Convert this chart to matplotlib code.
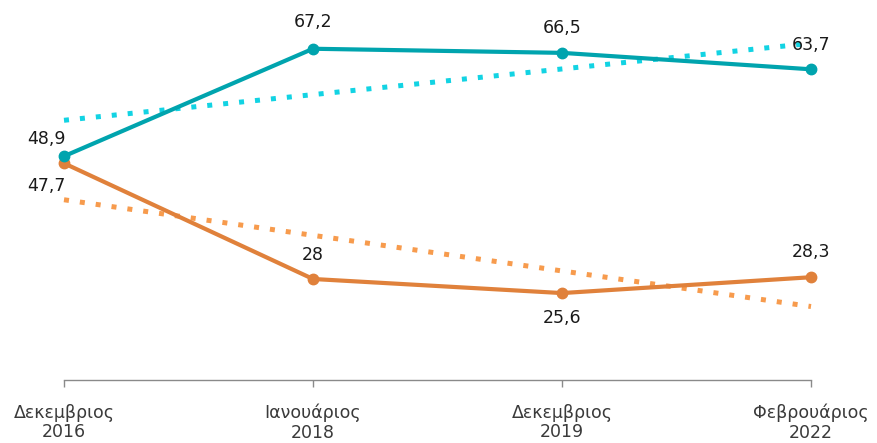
import matplotlib
matplotlib.use("Agg")
import matplotlib.pyplot as plt
import numpy as np

categories = ["Δεκεμβριος\n2016", "Ιανουάριος\n2018", "Δεκεμβριος\n2019", "Φεβρουάριος\n2022"]
teal_values = [48.9, 67.2, 66.5, 63.7]
orange_values = [47.7, 28.0, 25.6, 28.3]
teal_labels = ["48,9", "67,2", "66,5", "63,7"]
orange_labels = ["47,7", "28", "25,6", "28,3"]

TEAL = "#00A4AE"
TEAL_TREND = "#12D3E3"
ORANGE = "#E0813B"
ORANGE_TREND = "#F79B4D"

plt.rcParams['font.family'] = ['DejaVu Sans']

fig = plt.figure(figsize=(8.78, 4.43), dpi=100)
ax = fig.add_axes([64/878, (443-380)/443, (811-64)/878, 380/443])
x = np.arange(len(categories))

# trendlines (linear fit of data)
for vals, col in [(teal_values, TEAL_TREND), (orange_values, ORANGE_TREND)]:
    p = np.polyfit(x, vals, 1)
    ax.plot(x, np.polyval(p, x), color=col, lw=3.6, linestyle=(0, (1, 2.2)),
            solid_capstyle='butt', dash_capstyle='butt', clip_on=False, zorder=2)

ax.plot(x, orange_values, color=ORANGE, lw=3.0, marker='o', ms=7.5, clip_on=False, zorder=3)
ax.plot(x, teal_values, color=TEAL, lw=3.0, marker='o', ms=7.5, clip_on=False, zorder=4)

ax.set_xlim(0, 3)
ax.set_ylim(10.8, 75.5)

teal_off = [(-18, 17), (0, 27), (0, 25), (0, 24)]
orange_off = [(-18, -23), (0, 24), (0, -25), (0, 25)]
for i in range(4):
    ax.annotate(teal_labels[i], (x[i], teal_values[i]), xytext=teal_off[i],
                textcoords='offset pixels', ha='center', va='center',
                fontsize=12.5, color='#1a1a1a', zorder=5)
    ax.annotate(orange_labels[i], (x[i], orange_values[i]), xytext=orange_off[i],
                textcoords='offset pixels', ha='center', va='center',
                fontsize=12.5, color='#1a1a1a', zorder=5)

for s in ['top', 'right', 'left']:
    ax.spines[s].set_visible(False)
ax.spines['bottom'].set_color('#8a8a8a')
ax.spines['bottom'].set_linewidth(1)
ax.set_yticks([])
ax.set_xticks(x)
ax.set_xticklabels(categories, fontsize=12.5, color='#3a3a3a', linespacing=1.1)
ax.tick_params(axis='x', length=5, color='#8a8a8a', width=1, pad=12)

fig.savefig("out.png", dpi=100)
